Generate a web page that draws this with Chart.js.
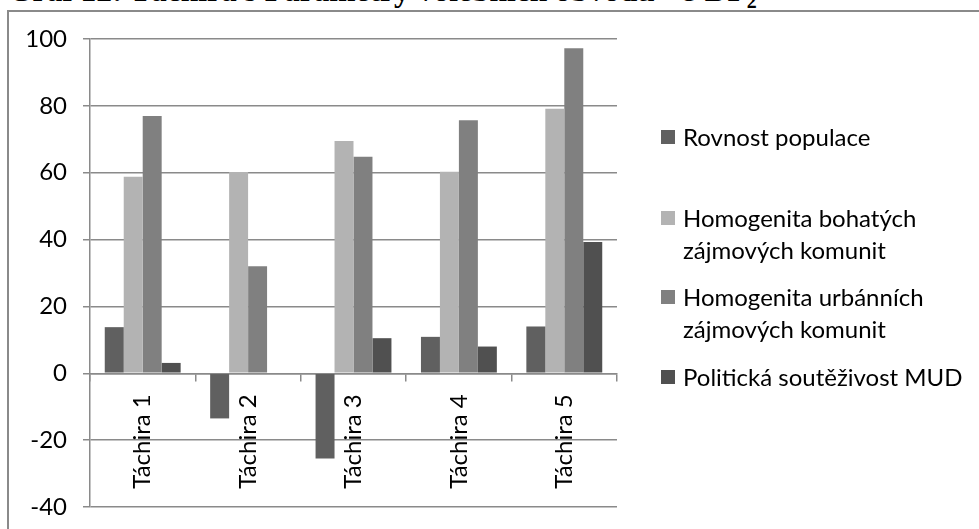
<!DOCTYPE html>
<html>
<head>
<meta charset="utf-8">
<script src="https://cdn.jsdelivr.net/npm/chart.js@4/dist/chart.umd.min.js"></script>
<style>
    html, body { margin: 0; padding: 0; background: #fff; overflow: hidden; }
    body { width: 979px; height: 529px; position: relative; }
    #title {
        position: absolute; left: 8px; top: -21px; white-space: nowrap;
        font: bold 31.5px/24px "Liberation Serif", "Times New Roman", serif; color: #000;
    }
    #title sub { font-size: 20px; line-height: 0; }
    #frame {
        position: absolute; left: 7px; top: 10px; width: 980px; height: 600px;
        border-left: 2px solid #8a8a8a; border-top: 2px solid #8a8a8a;
    }
    #wrap { position: absolute; left: 10px; top: 12px; width: 969px; height: 517px; }
    #legend { position: absolute; left: 661px; top: 0; width: 318px; }
    .item { position: absolute; left: 0; display: flex; align-items: flex-start;
        font: 24px/32px Lato, "Open Sans", sans-serif; color: #000; }
    .box { width: 14px; height: 14px; margin: 9px 8px 0 0; flex: none; }
    .txt { width: 290px; }
</style>
</head>
<body>
<div id="title">Graf 12: Táchira s Parametry volebních obvodů - 8 DP<sub>2</sub></div>
<div id="frame"></div>
<div id="wrap"><canvas id="chart"></canvas></div>
<div id="legend"></div>
<script>
// categories and series
const districts = ['Táchira 1', 'Táchira 2', 'Táchira 3', 'Táchira 4', 'Táchira 5'];
const seriesNames = ['Rovnost populace', 'Homogenita bohatých zájmových komunit',
    'Homogenita urbánních zájmových komunit', 'Politická soutěživost MUD'];
const rovnost = [13.8, -13.5, -25.5, 10.9, 14.0];
const bohate = [58.8, 60.2, 69.5, 60.3, 79.1];
const urbanni = [77.0, 32.0, 64.8, 75.7, 97.2];
const mud = [3.1, 0, 10.5, 8.0, 39.3];
const yTicks = [-40, -20, 0, 20, 40, 60, 80, 100];

const colors = ['#606060', '#b3b3b3', '#808080', '#505050'];
const gridColor = '#8a8a8a';
const labelFont = { family: 'Lato', size: 24 };

const seriesData = [rovnost, bohate, urbanni, mud];

const chart = new Chart(document.getElementById('chart').getContext('2d'), {
    type: 'bar',
    data: {
        labels: districts,
        datasets: seriesData.map((d, i) => ({
            label: seriesNames[i],
            data: d,
            backgroundColor: colors[i],
            borderWidth: 0,
            categoryPercentage: 0.72,
            barPercentage: 1.0,
        })),
    },
    options: {
        responsive: true,
        maintainAspectRatio: false,
        animation: false,
        layout: { padding: { top: 27, right: 362, bottom: 22, left: 0 } },
        plugins: {
            legend: { display: false },
            tooltip: { enabled: false },
        },
        scales: {
            x: {
                position: { y: 0 },
                grid: { drawOnChartArea: false, color: gridColor, lineWidth: 1.5, tickLength: 7, offset: true },
                border: { display: true, color: gridColor, width: 1.5 },
                ticks: { color: '#000', font: labelFont, minRotation: 90, maxRotation: 90, padding: 14, autoSkip: false },
            },
            y: {
                min: yTicks[0],
                max: yTicks[yTicks.length - 1],
                afterBuildTicks: (s) => { s.ticks = yTicks.map(v => ({ value: v })); },
                afterFit: (s) => { s.width = 80; },
                grid: { color: gridColor, lineWidth: 1.5, tickLength: 7 },
                border: { display: true, color: gridColor, width: 1.5 },
                // small lineHeight so the label overhang does not shrink the plot
                ticks: { color: '#000', font: { family: 'Lato', size: 24, lineHeight: 0.4 }, padding: 16 },
            },
        },
    },
});

// legend on the right, Excel style
const legendTops = [121, 202, 281, 361];
const legend = document.getElementById('legend');
seriesNames.forEach((name, i) => {
    const item = document.createElement('div');
    item.className = 'item';
    item.style.top = legendTops[i] + 'px';
    item.innerHTML = '<div class="box" style="background:' + colors[i] + '"></div><div class="txt"></div>';
    item.querySelector('.txt').textContent = name;
    legend.appendChild(item);
});
</script>
</body>
</html>
